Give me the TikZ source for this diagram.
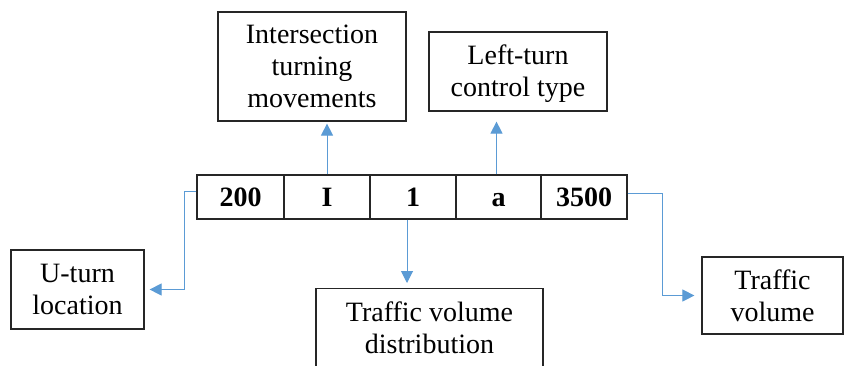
\documentclass[tikz,border=0pt]{standalone}
\usepackage{fontspec}
\setmainfont{Liberation Serif}
\usetikzlibrary{arrows.meta}
\definecolor{conblue}{RGB}{91,155,213}
\begin{document}
\begin{tikzpicture}[x=1pt,y=-1pt,
  lbl/.style={draw=black!85,line width=1.2pt,align=center,inner sep=0pt,
    font=\fontsize{28}{32}\selectfont},
  cell/.style={draw=black!85,line width=1.2pt,inner sep=0pt,minimum height=44pt,
    text height=19pt,text depth=0pt,
    font=\fontsize{28}{32}\selectfont\bfseries},
  con/.style={draw=conblue,line width=1pt,-{Triangle[length=12pt,width=12pt]}}]
\clip (0,0) rectangle (845,365);
\fill[white] (0,0) rectangle (845,365);
% row of cells
\node[cell,minimum width=87pt] (c200) at (240.5,197) {200};
\node[cell,minimum width=86pt] (cI) at (327,197) {I};
\node[cell,minimum width=86pt] (c1) at (413,197) {1};
\node[cell,minimum width=85pt] (ca) at (498.5,197) {a};
\node[cell,minimum width=86pt] (c3500) at (584,197) {3500};
% label boxes
\node[lbl,minimum width=188pt,minimum height=109pt] (inter) at (312,66.5) {Intersection\\turning\\movements};
\node[lbl,minimum width=178pt,minimum height=79pt,text depth=2pt] (lt) at (518,71.5) {Left-turn\\control type};
\node[lbl,minimum width=133pt,minimum height=79pt] (ut) at (77.5,289.5) {U-turn\\location};
\node[lbl,minimum width=141pt,minimum height=77pt] (tv) at (772.5,295.5) {Traffic\\volume};
\node[lbl,minimum width=227pt,minimum height=110pt,anchor=north,text depth=32pt] (dist) at (429.5,288) {Traffic volume\\distribution};
% connectors
\draw[con,shorten >=2pt] (cI.north) -- (cI.north |- inter.south);
\draw[con,shorten >=10pt] ([xshift=-2pt]ca.north) -- ([xshift=-2pt]ca.north |- lt.south);
\draw[con,shorten >=5pt] ([xshift=-6pt]c1.south) -- ([xshift=-6pt]c1.south |- dist.north);
\draw[con,shorten >=5pt] ([yshift=6pt]c200.west) -- ++(-12,0) |- (ut.east);
\draw[con,shorten >=7pt] ([yshift=4pt]c3500.east) -- ++(35,0) |- (tv.west);
\end{tikzpicture}
\end{document}
